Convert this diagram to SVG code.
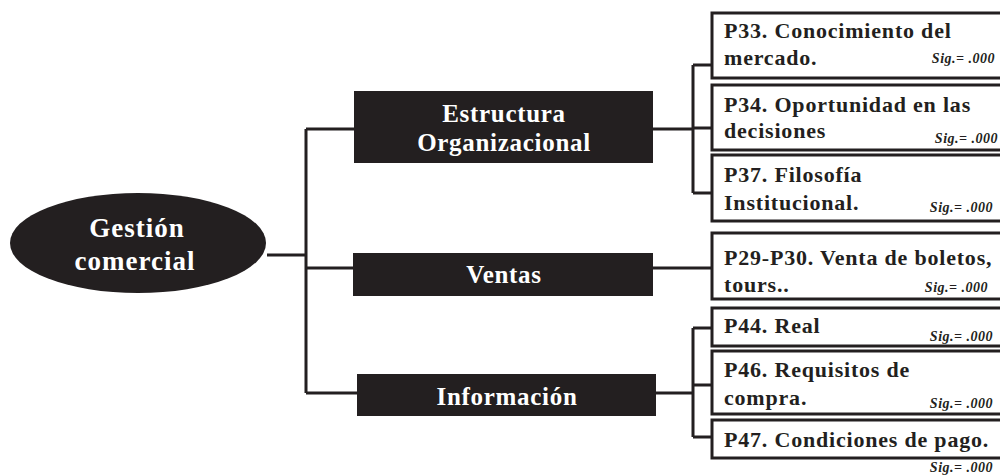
<svg xmlns="http://www.w3.org/2000/svg" width="1000" height="476" viewBox="0 0 1000 476">
<style>
.dark{fill:#231f20}
.wt{fill:#fff;font-family:"Liberation Serif",serif;font-weight:bold;text-anchor:middle}
.box{fill:#fff;stroke:#231f20;stroke-width:3}
.bt{fill:#231f20;font-family:"Liberation Serif",serif;font-weight:bold;font-size:22px;letter-spacing:0.8px}
.sig{fill:#231f20;font-family:"Liberation Serif",serif;font-weight:bold;font-style:italic;font-size:14px;letter-spacing:0.5px;text-anchor:end}
.ln{fill:none;stroke:#231f20;stroke-width:3}
</style>
<rect width="1000" height="476" fill="#fff"/>
<g id="connectors">
<path class="ln" d="M267 255H306M306 129V393M306 129H354M306 268H353M306 393H357"/>
<path class="ln" d="M653 129H693M693 65V193M693 65H712M693 128H712M693 193H712"/>
<path class="ln" d="M653 268H712"/>
<path class="ln" d="M656 393H693M693 328V437M693 328H712M693 385H712M693 437H712"/>
</g>
<g id="root">
<ellipse class="dark" cx="138" cy="243" rx="128" ry="50"/>
<text class="wt" x="137" y="237" font-size="27" letter-spacing="1">Gestión</text>
<text class="wt" x="135" y="270" font-size="27" letter-spacing="1">comercial</text>
</g>
<g id="estructura">
<rect class="dark" x="354" y="91" width="299" height="72"/>
<text class="wt" x="504" y="122" font-size="25" letter-spacing="0.7">Estructura</text>
<text class="wt" x="504" y="151" font-size="25" letter-spacing="0.7">Organizacional</text>
</g>
<g id="ventas">
<rect class="dark" x="353" y="253" width="300" height="43"/>
<text class="wt" x="504" y="283" font-size="25" letter-spacing="0.7">Ventas</text>
</g>
<g id="informacion">
<rect class="dark" x="357" y="374" width="299" height="42"/>
<text class="wt" x="507" y="405" font-size="25" letter-spacing="0.7">Información</text>
</g>
<g id="p33">
<rect class="box" x="712" y="13" width="300" height="65"/>
<text class="bt" x="724" y="38">P33. Conocimiento del</text>
<text class="bt" x="724" y="65">mercado.</text>
<text class="sig" x="995" y="63">Sig.= .000</text>
</g>
<g id="p34">
<rect class="box" x="712" y="85" width="300" height="65"/>
<text class="bt" x="724" y="112">P34. Oportunidad en las</text>
<text class="bt" x="724" y="138">decisiones</text>
<text class="sig" x="998" y="143">Sig.= .000</text>
</g>
<g id="p37">
<rect class="box" x="712" y="155" width="300" height="66"/>
<text class="bt" x="724" y="182">P37. Filosofía</text>
<text class="bt" x="724" y="210">Institucional.</text>
<text class="sig" x="993" y="212">Sig.= .000</text>
</g>
<g id="p29">
<rect class="box" x="712" y="233" width="300" height="66"/>
<text class="bt" x="724" y="265">P29-P30. Venta de boletos,</text>
<text class="bt" x="724" y="292">tours..</text>
<text class="sig" x="988" y="292">Sig.= .000</text>
</g>
<g id="p44">
<rect class="box" x="712" y="308" width="300" height="38"/>
<text class="bt" x="724" y="333">P44. Real</text>
<text class="sig" x="993" y="341">Sig.= .000</text>
</g>
<g id="p46">
<rect class="box" x="712" y="351" width="300" height="63"/>
<text class="bt" x="724" y="377">P46. Requisitos de</text>
<text class="bt" x="724" y="405">compra.</text>
<text class="sig" x="993" y="408">Sig.= .000</text>
</g>
<g id="p47">
<rect class="box" x="712" y="420" width="300" height="38"/>
<text class="bt" x="724" y="447">P47. Condiciones de pago.</text>
<text class="sig" x="993" y="472">Sig.= .000</text>
</g>
</svg>
